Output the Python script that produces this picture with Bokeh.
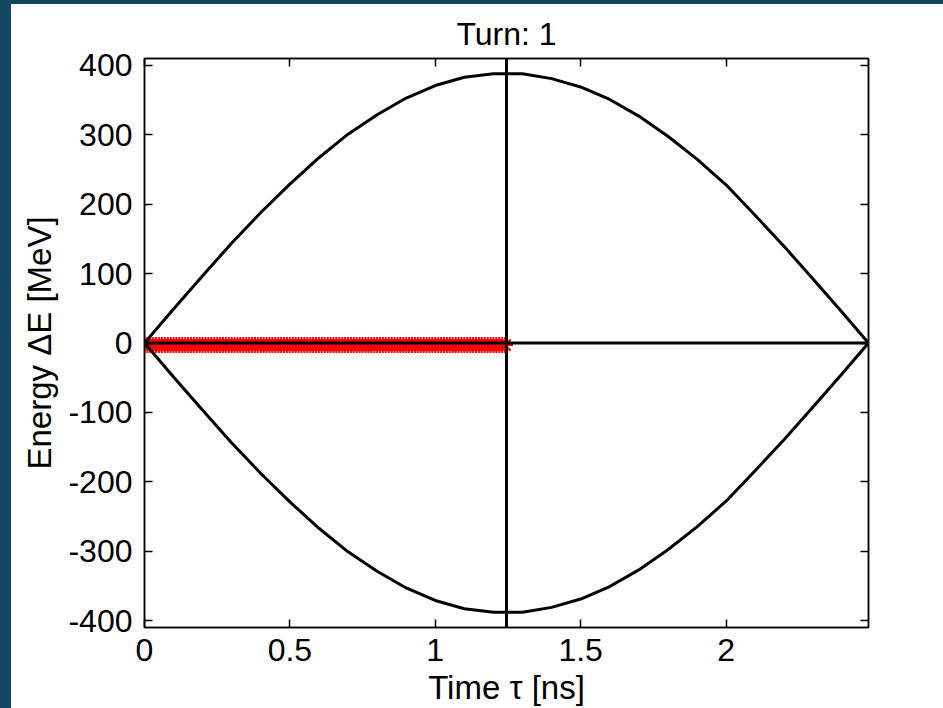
from bokeh.plotting import figure
from bokeh.models import Range1d, FixedTicker, LinearAxis, Span, Div
from bokeh.layouts import row, column
from bokeh.embed import file_html
from bokeh.resources import INLINE

# ---- data ----
t_sep = [0.0, 0.1, 0.2, 0.3, 0.4, 0.5, 0.6, 0.7, 0.8, 0.9, 1.0, 1.1, 1.2, 1.3,
         1.4, 1.5, 1.6, 1.7, 1.8, 1.9, 2.0, 2.1, 2.2, 2.3, 2.4, 2.49]
E_sep_upper = [0, 49, 97, 144, 188, 229, 267, 301, 329, 353, 371, 383, 388, 388,
               381, 369, 351, 327, 298, 265, 228, 184, 139, 92, 44, 0]
E_sep_lower = [0, -49, -97, -144, -188, -229, -267, -301, -329, -353, -371, -383, -388, -388,
               -381, -369, -351, -327, -298, -265, -228, -184, -139, -92, -44, 0]

t_center = 1.245
t_end = 2.49

particle_t = [0.00, 0.01, 0.02, 0.03, 0.04, 0.05, 0.06, 0.07, 0.08, 0.09,
              0.10, 0.11, 0.12, 0.13, 0.14, 0.15, 0.16, 0.17, 0.18, 0.19,
              0.20, 0.21, 0.22, 0.23, 0.24, 0.25, 0.26, 0.27, 0.28, 0.29,
              0.30, 0.31, 0.32, 0.33, 0.34, 0.35, 0.36, 0.37, 0.38, 0.39,
              0.40, 0.41, 0.42, 0.43, 0.44, 0.45, 0.46, 0.47, 0.48, 0.49,
              0.50, 0.51, 0.52, 0.53, 0.54, 0.55, 0.56, 0.57, 0.58, 0.59,
              0.60, 0.61, 0.62, 0.63, 0.64, 0.65, 0.66, 0.67, 0.68, 0.69,
              0.70, 0.71, 0.72, 0.73, 0.74, 0.75, 0.76, 0.77, 0.78, 0.79,
              0.80, 0.81, 0.82, 0.83, 0.84, 0.85, 0.86, 0.87, 0.88, 0.89,
              0.90, 0.91, 0.92, 0.93, 0.94, 0.95, 0.96, 0.97, 0.98, 0.99,
              1.00, 1.01, 1.02, 1.03, 1.04, 1.05, 1.06, 1.07, 1.08, 1.09,
              1.10, 1.11, 1.12, 1.13, 1.14, 1.15, 1.16, 1.17, 1.18, 1.19,
              1.20, 1.21, 1.22, 1.23, 1.24]
particle_E = [-3] * len(particle_t)

x_ticks = [0, 0.5, 1, 1.5, 2]
x_tick_labels = ["0", "0.5", "1", "1.5", "2"]
y_ticks = [-400, -300, -200, -100, 0, 100, 200, 300, 400]
y_tick_labels = ["-400", "-300", "-200", "-100", "0", "100", "200", "300", "400"]

FONT = "Liberation Sans"
TICK_FS = "32px"
LABEL_FS = "33px"
BG_DARK = "#13465f"

p = figure(frame_width=724, frame_height=569,
           x_range=Range1d(0, t_end), y_range=Range1d(-410, 410),
           output_backend="svg", toolbar_location=None,
           min_border_left=133, min_border_right=40,
           min_border_top=54, min_border_bottom=73,
           background_fill_color="white", border_fill_color="white")

p.title.text = "Turn: 1"
p.title.align = "center"
p.title.text_font = FONT
p.title.text_font_size = "32px"
p.title.text_font_style = "normal"
p.title.text_color = "black"
p.title.standoff = 13

p.grid.visible = False
p.outline_line_color = "black"
p.outline_line_width = 1.5

def style_axis(ax, ticks, labels, show_labels=True):
    ax.ticker = FixedTicker(ticks=ticks)
    ax.major_label_overrides = {t: l for t, l in zip(ticks, labels)}
    ax.major_tick_in = 8
    ax.major_tick_out = 0
    ax.minor_tick_line_color = None
    ax.axis_line_color = "black"
    ax.axis_line_width = 1.5
    ax.major_tick_line_color = "black"
    ax.major_tick_line_width = 1.5
    ax.major_label_text_font = FONT
    ax.major_label_text_font_size = TICK_FS
    ax.major_label_text_color = "black"
    ax.axis_label_text_font = FONT
    ax.axis_label_text_font_size = LABEL_FS
    ax.axis_label_text_font_style = "normal"
    ax.axis_label_text_color = "black"
    if not show_labels:
        ax.major_label_text_color = None
        ax.major_label_text_font_size = "1px"
        ax.major_label_standoff = 0

style_axis(p.xaxis[0], x_ticks, x_tick_labels)
style_axis(p.yaxis[0], y_ticks, y_tick_labels)
p.xaxis[0].axis_label = "Time τ [ns]"
p.yaxis[0].axis_label = "Energy ΔE [MeV]"
p.xaxis[0].major_label_standoff = 11
p.yaxis[0].major_label_standoff = 12
p.xaxis[0].axis_label_standoff = 5
p.yaxis[0].axis_label_standoff = 7

top_ax = LinearAxis()
style_axis(top_ax, x_ticks, x_tick_labels, show_labels=False)
p.add_layout(top_ax, "above")
right_ax = LinearAxis()
style_axis(right_ax, y_ticks, y_tick_labels, show_labels=False)
p.add_layout(right_ax, "right")

# particles
p.scatter(particle_t, particle_E, marker="asterisk", size=16,
          line_color="red", line_width=2)

# separatrix
p.line(t_sep, E_sep_upper, line_color="black", line_width=3)
p.line(t_sep, E_sep_lower, line_color="black", line_width=3)

# center lines
p.line([0, t_end], [0, 0], line_color="black", line_width=3)
p.add_layout(Span(location=t_center, dimension="height",
                  line_color="black", line_width=3))

top_strip = Div(text="", width=943, height=4, margin=0,
                styles={"background-color": BG_DARK})
left_strip = Div(text="", width=11, height=704, margin=0,
                 styles={"background-color": BG_DARK})
layout = column(top_strip, row(left_strip, p, spacing=0), spacing=0)

open("out.html", "w").write(file_html(layout, INLINE))
